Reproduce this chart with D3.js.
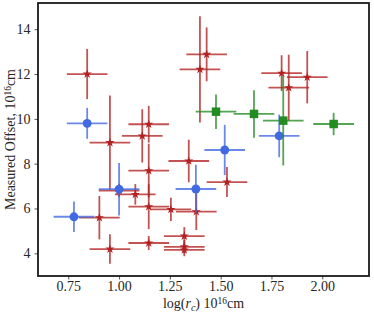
<!DOCTYPE html>
<html>
<head>
<meta charset="utf-8">
<script src="https://cdn.jsdelivr.net/npm/d3@7"></script>
<style>
  body { margin: 0; background: #fff; }
  svg text { font-family: "Liberation Serif", "DejaVu Serif", serif; fill: #262626; }
</style>
</head>
<body>
<div id="chart"></div>
<script>
const width = 374, height = 315;
const plotLeft = 38, plotRight = 369, plotTop = 3, plotBottom = 276;

// red stars
const redX    = [0.843, 0.955, 1.114, 1.146, 1.146, 1.146, 1.080, 1.000, 0.903, 0.955, 1.146, 1.255, 1.380, 1.343, 1.531, 1.321, 1.321, 1.321, 1.431, 1.398, 1.800, 1.926, 1.835];
const redY    = [12.00, 8.94, 9.24, 9.76, 7.69, 6.08, 6.63, 6.80, 5.59, 4.19, 4.46, 5.96, 5.86, 8.12, 7.18, 4.77, 4.29, 4.15, 12.88, 12.21, 12.04, 11.86, 11.39];
const redYErr = [1.12, 2.10, 1.19, 0.82, 1.20, 1.00, 0.46, 0.30, 0.97, 0.66, 0.31, 0.52, 0.82, 0.95, 0.67, 0.40, 0.30, 0.28, 1.20, 2.37, 0.80, 1.17, 1.47];

// blue circles
const blueX    = [0.843, 1.000, 0.778, 1.378, 1.520, 1.788];
const blueY    = [9.80, 6.86, 5.63, 6.87, 8.61, 9.24];
const blueYErr = [0.69, 1.17, 0.68, 1.08, 1.12, 0.95];

// green squares
const greenX    = [1.477, 1.664, 1.808, 2.056];
const greenY    = [10.32, 10.22, 9.92, 9.77];
const greenYErr = [0.77, 1.06, 2.00, 0.50];

const xErr = 0.1;
const xTicks = [0.75, 1.00, 1.25, 1.50, 1.75, 2.00];
const yTicks = [4, 6, 8, 10, 12, 14];

const x = d3.scaleLinear().domain([0.601, 2.230]).range([plotLeft, plotRight]);
const y = d3.scaleLinear().domain([2.987, 15.17]).range([plotBottom, plotTop]);

const svg = d3.select("#chart").append("svg")
  .attr("width", width).attr("height", height);

function series(xs, ys, yerrs, color, shape, size) {
  const data = xs.map((d, i) => ({x: d, y: ys[i], e: yerrs[i]}));
  const g = svg.append("g");
  const bars = g.append("g")
    .attr("stroke", color).attr("stroke-width", 1.8).attr("stroke-opacity", 0.78);
  bars.selectAll("line.h").data(data).enter().append("line")
    .attr("x1", d => x(d.x - xErr)).attr("x2", d => x(d.x + xErr))
    .attr("y1", d => y(d.y)).attr("y2", d => y(d.y));
  bars.selectAll("line.v").data(data).enter().append("line")
    .attr("x1", d => x(d.x)).attr("x2", d => x(d.x))
    .attr("y1", d => y(d.y - d.e)).attr("y2", d => y(d.y + d.e));
  g.selectAll("path").data(data).enter().append("path")
    .attr("d", d3.symbol().type(shape).size(size))
    .attr("transform", d => "translate(" + x(d.x) + "," + y(d.y) + ")")
    .attr("fill", color);
}

series(redX, redY, redYErr, "#b22222", d3.symbolStar, 26);
series(blueX, blueY, blueYErr, "#4169e1", d3.symbolCircle, 62);
series(greenX, greenY, greenYErr, "#228b22", d3.symbolSquare, 72);

// axes
const xAxis = svg.append("g").attr("transform", "translate(0," + plotBottom + ")")
  .call(d3.axisBottom(x).tickValues(xTicks).tickFormat(d3.format(".2f")).tickSize(3.5).tickPadding(2));
const yAxis = svg.append("g").attr("transform", "translate(" + plotLeft + ",0)")
  .call(d3.axisLeft(y).tickValues(yTicks).tickFormat(d3.format("d")).tickSize(3.5).tickPadding(4));
[xAxis, yAxis].forEach(a => {
  a.select(".domain").remove();
  a.selectAll("line").attr("stroke", "#262626").attr("stroke-width", 0.8);
  a.selectAll("text").attr("font-size", 14).attr("fill", "#262626")
    .style("font-family", "'Liberation Serif', serif");
});

svg.append("rect")
  .attr("x", plotLeft).attr("y", plotTop)
  .attr("width", plotRight - plotLeft).attr("height", plotBottom - plotTop)
  .attr("fill", "none").attr("stroke", "#1a1a1a").attr("stroke-width", 1.8);

// x label
const xl = svg.append("text")
  .attr("x", (plotLeft + plotRight) / 2).attr("y", 308)
  .attr("text-anchor", "middle").attr("font-size", 14);
xl.append("tspan").text("log(");
xl.append("tspan").attr("font-style", "italic").text("r");
xl.append("tspan").attr("font-style", "italic").attr("font-size", 10).attr("dy", 3).text("c");
xl.append("tspan").attr("dy", -3).text(") 10");
xl.append("tspan").attr("font-size", 9.5).attr("dy", -4.5).text("16");
xl.append("tspan").attr("dy", 4.5).text("cm");

// y label
const yl = svg.append("text")
  .attr("transform", "translate(15," + ((plotTop + plotBottom) / 2) + ") rotate(-90)")
  .attr("text-anchor", "middle").attr("font-size", 14);
yl.append("tspan").text("Measured Offset, 10");
yl.append("tspan").attr("font-size", 9.5).attr("dy", -4.5).text("16");
yl.append("tspan").attr("dy", 4.5).text("cm");
</script>
</body>
</html>
